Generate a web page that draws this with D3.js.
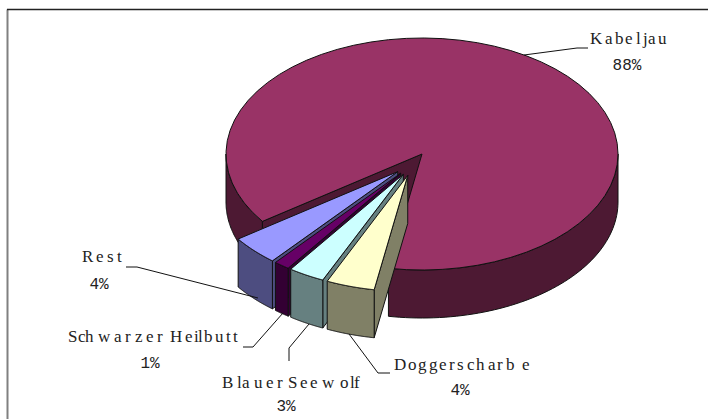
<!DOCTYPE html>
<html><head><meta charset="utf-8">
<script src="https://cdn.jsdelivr.net/npm/d3@7"></script>
<style>html,body{margin:0;padding:0;background:#fff}svg{display:block}
text{font-family:"Liberation Serif",serif;font-size:17px;fill:#222}
text.pct{font-family:"Liberation Mono",monospace;font-size:16px}</style></head>
<body><svg id="c" width="708" height="419"></svg>
<script>
const categories = ["Kabeljau","Doggerscharbe","Blauer Seewolf","Schwarzer Heilbutt","Rest"];
const shares = [87.6,4,3,1.3,4.1];
const shareLabels = ["88%","4%","3%","1%","4%"];
const topColors = ["#993366","#FFFFCC","#CCFFFF","#660066","#9999FF"];
const sideColors = ["#4D1933","#808066","#668080","#330033","#4D4D80"];

const svg = d3.select("#c");
const rad = d => d*Math.PI/180;
const cx=422, cy=154, rx=196, ry=116, depth=48, S0=rad(234.5), explode=0.19, explodeFold=0.78;
const arcs = d3.pie().sort(null).startAngle(S0).endAngle(S0+2*Math.PI)(shares);
const proj = (a,c) => [c[0]+rx*Math.sin(a), c[1]-ry*Math.cos(a)];
const down = p => [p[0],p[1]+depth];
const line = d3.line();
const arcPts = (a0,a1,c) => d3.range(0,61).map(i=>proj(a0+(a1-a0)*i/60,c));
const shape = (pts,fill) => svg.append("path").attr("d",line(pts)+"Z").attr("fill",fill).attr("stroke","#111").attr("stroke-width",1).attr("stroke-linejoin","round");
const wall = (a0,a1,c,fill) => { const t=arcPts(a0,a1,c); shape(t.concat(t.map(down).reverse()),fill); };

// frame
svg.append("path").attr("d","M7.5 419V9.5").attr("stroke","#808080").attr("stroke-width",2).attr("fill","none");
svg.append("path").attr("d","M7 9.5H708").attr("stroke","#222").attr("stroke-width",1.5).attr("fill","none");

// main slice
const m=arcs[0], C=[cx,cy];
wall(m.startAngle,rad(270),C,sideColors[0]);
wall(rad(450),m.endAngle,C,sideColors[0]);
{const p=proj(m.startAngle,C); shape([C,p,down(p),down(C)],sideColors[0]);}
shape([C].concat(arcPts(m.startAngle,m.endAngle,C)),topColors[0]);

// exploded slices, back to front
[4,3,2,1].forEach(i=>{
  const d=arcs[i], midAngle=((d.startAngle+d.endAngle)/2)%(2*Math.PI), mid=Math.PI+(midAngle-Math.PI)*explodeFold;
  const ox=rx*explode*Math.sin(mid), oy=-ry*explode*Math.cos(mid);
  const c=[cx+0.73*ox-8,cy+oy];
  const corner=proj(d.startAngle,c);
  shape([c,corner,down(corner),down(c)],sideColors[i]);
  wall(d.startAngle,d.endAngle,c,sideColors[i]);
  shape([c].concat(arcPts(d.startAngle,d.endAngle,c)),topColors[i]);
});

// leaders
const leaders=[[[524,55],[577,48],[588,48]],[[349,334],[378,373],[390,373]],[[309,324],[289,348],[289,361]],[[283,313],[253,347],[243,347]],[[258,298],[137,267],[126,267]]];
leaders.forEach(p=>svg.append("path").attr("d",d3.line()(p)).attr("fill","none").attr("stroke","#111").attr("stroke-width",1));

// labels: the reference places each glyph at an uneven advance
const glyphX=[
 [590,605,615,625,636,643,648,658],
 [394,408,418,429,439,449,457,467,476,488,497,506,522],
 [222,237,242,254,266,277,284,288,300,310,322,340,350,354],
 [68,78,85,98,114,125,135,146,157,165,170,185,194,198,204,215,226,233],
 [82,96,107,117]];
const nameY=[44,370,388,342,262], pctX=[627,460,286,150,99], pctY=[70,395,411,368,289];
categories.forEach((t,i)=>{
  svg.append("text").attr("x",glyphX[i].join(" ")).attr("y",nameY[i]).text(t);
  svg.append("text").attr("class","pct").attr("x",pctX[i]).attr("y",pctY[i]).attr("text-anchor","middle").text(shareLabels[i]);
});
</script></body></html>
